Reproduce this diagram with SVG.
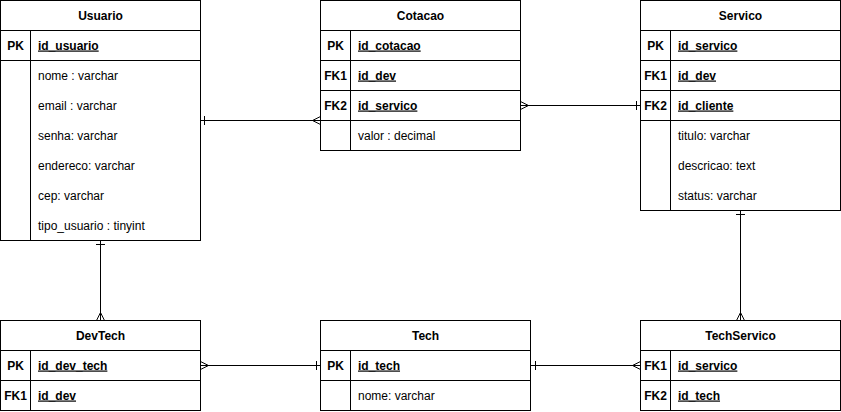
<svg xmlns="http://www.w3.org/2000/svg" width="841" height="412" viewBox="0 0 841 412">
<style>
.box{fill:#fff;stroke:#000;stroke-width:1}
.ln{stroke:#000;stroke-width:1;fill:none}
text{font-family:"Liberation Sans",Arial,sans-serif;font-size:12px;fill:#000}
.h{font-weight:bold;text-anchor:middle}
.k{font-weight:bold;text-anchor:middle}
.id{font-weight:bold;text-decoration:underline}
.conn{stroke:#000;stroke-width:1;fill:none}
</style>
<defs>
<marker id="one" markerUnits="userSpaceOnUse" orient="auto-start-reverse" viewBox="-12 -6 14 12" refX="0" refY="0" markerWidth="14" markerHeight="12" overflow="visible">
<path d="M-4,-4.5 L-4,4.5" stroke="#000" stroke-width="1" fill="none"/>
</marker>
<marker id="one5" markerUnits="userSpaceOnUse" orient="auto-start-reverse" viewBox="-12 -6 14 12" refX="0" refY="0" markerWidth="14" markerHeight="12" overflow="visible">
<path d="M-5,-4.5 L-5,4.5" stroke="#000" stroke-width="1" fill="none"/>
</marker>
<marker id="many" markerUnits="userSpaceOnUse" orient="auto-start-reverse" viewBox="-12 -6 14 12" refX="0" refY="0" markerWidth="14" markerHeight="12" overflow="visible">
<path d="M0,-4 L-8,0 L0,4" stroke="#000" stroke-width="1" fill="none"/>
</marker>
</defs>

<g id="connectors">
<path class="conn" d="M200.5,120.5 H320.5" marker-start="url(#one)" marker-end="url(#many)"/>
<path class="conn" d="M520.5,105.5 H640.5" marker-start="url(#many)" marker-end="url(#one)"/>
<path class="conn" d="M100.5,240.5 V320.5" marker-start="url(#one)" marker-end="url(#many)"/>
<path class="conn" d="M200.5,365.5 H320.5" marker-start="url(#many)" marker-end="url(#one)"/>
<path class="conn" d="M530.5,365.5 H640.5" marker-start="url(#one5)" marker-end="url(#many)"/>
<path class="conn" d="M740.5,210.5 V320.5" marker-start="url(#one)" marker-end="url(#many)"/>
</g>

<g id="Usuario">
<rect class="box" x="0.5" y="0.5" width="200" height="240"/>
<path class="ln" d="M0.5,30.5 H200.5 M0.5,60.5 H200.5 M30.5,30.5 V240.5"/>
<text class="h" x="100.5" y="19.5">Usuario</text>
<text class="k" x="15.5" y="49.5">PK</text>
<text class="id" x="38" y="49.5">id_usuario</text>
<text x="38" y="79.5">nome : varchar</text>
<text x="38" y="109.5">email : varchar</text>
<text x="38" y="139.5">senha: varchar</text>
<text x="38" y="169.5">endereco: varchar</text>
<text x="38" y="199.5">cep: varchar</text>
<text x="38" y="229.5">tipo_usuario : tinyint</text>
</g>

<g id="Cotacao">
<rect class="box" x="320.5" y="0.5" width="200" height="150"/>
<path class="ln" d="M320.5,30.5 H520.5 M320.5,60.5 H520.5 M320.5,90.5 H520.5 M320.5,120.5 H520.5 M350.5,30.5 V150.5"/>
<text class="h" x="420.5" y="19.5">Cotacao</text>
<text class="k" x="335.5" y="49.5">PK</text>
<text class="id" x="358" y="49.5">id_cotacao</text>
<text class="k" x="335.5" y="79.5">FK1</text>
<text class="id" x="358" y="79.5">id_dev</text>
<text class="k" x="335.5" y="109.5">FK2</text>
<text class="id" x="358" y="109.5">id_servico</text>
<text x="358" y="139.5">valor : decimal</text>
</g>

<g id="Servico">
<rect class="box" x="640.5" y="0.5" width="200" height="210"/>
<path class="ln" d="M640.5,30.5 H840.5 M640.5,60.5 H840.5 M640.5,90.5 H840.5 M640.5,120.5 H840.5 M670.5,30.5 V210.5"/>
<text class="h" x="740.5" y="19.5">Servico</text>
<text class="k" x="655.5" y="49.5">PK</text>
<text class="id" x="678" y="49.5">id_servico</text>
<text class="k" x="655.5" y="79.5">FK1</text>
<text class="id" x="678" y="79.5">id_dev</text>
<text class="k" x="655.5" y="109.5">FK2</text>
<text class="id" x="678" y="109.5">id_cliente</text>
<text x="678" y="139.5">titulo: varchar</text>
<text x="678" y="169.5">descricao: text</text>
<text x="678" y="199.5">status: varchar</text>
</g>

<g id="DevTech">
<rect class="box" x="0.5" y="320.5" width="200" height="90"/>
<path class="ln" d="M0.5,350.5 H200.5 M0.5,380.5 H200.5 M30.5,350.5 V410.5"/>
<text class="h" x="100.5" y="339.5">DevTech</text>
<text class="k" x="15.5" y="369.5">PK</text>
<text class="id" x="38" y="369.5">id_dev_tech</text>
<text class="k" x="15.5" y="399.5">FK1</text>
<text class="id" x="38" y="399.5">id_dev</text>
</g>

<g id="Tech">
<rect class="box" x="320.5" y="320.5" width="210" height="90"/>
<path class="ln" d="M320.5,350.5 H530.5 M320.5,380.5 H530.5 M350.5,350.5 V410.5"/>
<text class="h" x="425.5" y="339.5">Tech</text>
<text class="k" x="335.5" y="369.5">PK</text>
<text class="id" x="358" y="369.5">id_tech</text>
<text x="358" y="399.5">nome: varchar</text>
</g>

<g id="TechServico">
<rect class="box" x="640.5" y="320.5" width="200" height="90"/>
<path class="ln" d="M640.5,350.5 H840.5 M640.5,380.5 H840.5 M670.5,350.5 V410.5"/>
<text class="h" x="740.5" y="339.5">TechServico</text>
<text class="k" x="655.5" y="369.5">FK1</text>
<text class="id" x="678" y="369.5">id_servico</text>
<text class="k" x="655.5" y="399.5">FK2</text>
<text class="id" x="678" y="399.5">id_tech</text>
</g>
</svg>
